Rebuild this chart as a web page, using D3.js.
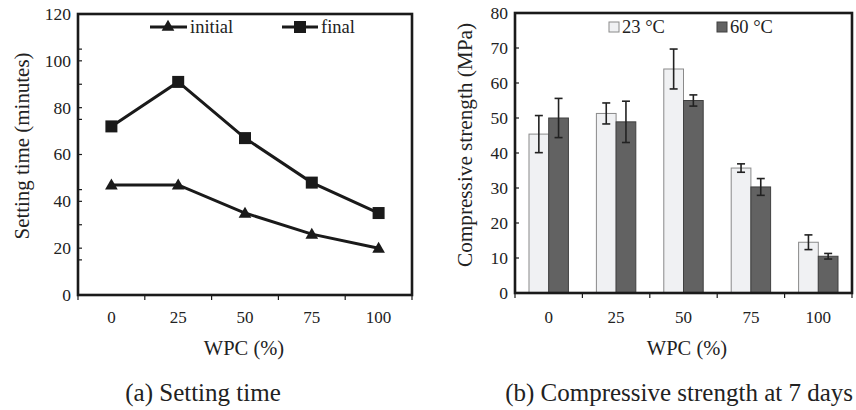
<!DOCTYPE html>
<html>
<head>
<meta charset="utf-8">
<script src="https://cdn.jsdelivr.net/npm/d3@7"></script>
<style>
  body { margin: 0; background: #fff; }
</style>
</head>
<body>
<svg id="chart" width="856" height="410" font-family="Liberation Serif, Times New Roman, Tinos, DejaVu Serif, Noto Serif, serif"></svg>
<script>
const wpc = ['0', '25', '50', '75', '100'];

// (a) setting time, minutes
const initialTime = [47, 47, 35, 26, 20];
const finalTime = [72, 91, 67, 48, 35];
const timeTicks = [0, 20, 40, 60, 80, 100, 120];
const timeMinor = [15, 30, 45, 75, 90, 105];

// (b) compressive strength at 7 days, MPa
const temps = ['23 °C', '60 °C'];
const strength23 = [45.4, 51.3, 64, 35.7, 14.5];
const err23 = [5.3, 3.0, 5.7, 1.2, 2.1];
const strength60 = [50, 48.9, 55, 30.3, 10.5];
const err60 = [5.6, 5.9, 1.6, 2.4, 0.8];
const strengthTicks = [0, 10, 20, 30, 40, 50, 60, 70, 80];

const svg = d3.select('#chart');
const ink = '#1a1a1a';
const txt = '#222';

// squeeze a text to the width measured on the reference
function fit(sel, w) {
    return sel.attr('textLength', w).attr('lengthAdjust', 'spacingAndGlyphs');
}

function drawFrame(g, x, y, ticks, minor) {
    const [x0, x1] = x.range();
    const [y0, y1] = y.range();

    g.selectAll('.ytick')
        .data(ticks.concat(minor))
        .enter().append('line')
        .attr('x1', x0).attr('x2', x0 + 4)
        .attr('y1', d => y(d)).attr('y2', d => y(d))
        .attr('stroke', ink).attr('stroke-width', 1.2);

    g.selectAll('.ylab')
        .data(ticks)
        .enter().append('text')
        .attr('x', x0 - 7)
        .attr('y', d => y(d))
        .attr('dy', '0.34em')
        .attr('text-anchor', 'end')
        .attr('fill', txt)
        .style('font-size', '17.5px')
        .text(d => d);

    // x ticks sit on the category boundaries
    const bounds = x.domain().map(d => x(d)).concat([x1]);
    g.selectAll('.xtick')
        .data(bounds)
        .enter().append('line')
        .attr('x1', d => d).attr('x2', d => d)
        .attr('y1', y0).attr('y2', y0 + 5)
        .attr('stroke', ink).attr('stroke-width', 1.2);

    g.selectAll('.xlab')
        .data(x.domain())
        .enter().append('text')
        .attr('x', d => x(d) + x.bandwidth() / 2)
        .attr('y', 323)
        .attr('text-anchor', 'middle')
        .attr('fill', txt)
        .style('font-size', '17px')
        .text(d => d);

    g.append('rect')
        .attr('x', x0).attr('y', y1)
        .attr('width', x1 - x0).attr('height', y0 - y1)
        .attr('fill', 'none')
        .attr('stroke', ink)
        .attr('stroke-width', 2.6);
}

// ---------- (a) setting time ----------
const gA = svg.append('g');
const xA = d3.scaleBand().domain(wpc).range([78, 412]);
const yA = d3.scaleLinear().domain([0, 120]).range([295, 14]);
const cx = d => xA(d) + xA.bandwidth() / 2;

const line = d3.line().x(d => cx(d.k)).y(d => yA(d.v));
const initPts = wpc.map((k, i) => ({ k, v: initialTime[i] }));
const finalPts = wpc.map((k, i) => ({ k, v: finalTime[i] }));

gA.append('path').datum(initPts)
    .attr('d', line).attr('fill', 'none')
    .attr('stroke', ink).attr('stroke-width', 3);
gA.append('path').datum(finalPts)
    .attr('d', line).attr('fill', 'none')
    .attr('stroke', ink).attr('stroke-width', 3);

const tri = d3.symbol().type(d3.symbolTriangle).size(70);
gA.selectAll('.tri')
    .data(initPts)
    .enter().append('path')
    .attr('d', tri)
    .attr('transform', d => `translate(${cx(d.k)},${yA(d.v) + 1})`)
    .attr('fill', ink);

gA.selectAll('.sq')
    .data(finalPts)
    .enter().append('rect')
    .attr('x', d => cx(d.k) - 6).attr('y', d => yA(d.v) - 6)
    .attr('width', 12).attr('height', 12)
    .attr('fill', ink);

drawFrame(gA, xA, yA, timeTicks, timeMinor);

// legend (a)
const legA = gA.append('g');
legA.append('line').attr('x1', 150).attr('x2', 187).attr('y1', 27).attr('y2', 27)
    .attr('stroke', ink).attr('stroke-width', 3);
legA.append('path').attr('d', tri).attr('transform', 'translate(168,27)').attr('fill', ink);
legA.append('text').attr('x', 190).attr('y', 27).attr('dy', '0.34em')
    .attr('fill', txt).style('font-size', '18.5px').text('initial');
legA.append('line').attr('x1', 282).attr('x2', 318).attr('y1', 27).attr('y2', 27)
    .attr('stroke', ink).attr('stroke-width', 3);
legA.append('rect').attr('x', 294).attr('y', 21).attr('width', 12).attr('height', 12).attr('fill', ink);
legA.append('text').attr('x', 321).attr('y', 27).attr('dy', '0.34em')
    .attr('fill', txt).style('font-size', '18.5px').text('final');

fit(gA.append('text')
    .attr('transform', 'translate(29,146) rotate(-90)')
    .attr('text-anchor', 'middle')
    .attr('fill', txt)
    .style('font-size', '21px')
    .text('Setting time (minutes)'), 187);
gA.append('text').attr('x', 244).attr('y', 355).attr('text-anchor', 'middle')
    .attr('fill', txt).style('font-size', '20.5px').text('WPC (%)');
gA.append('text').attr('x', 203).attr('y', 401).attr('text-anchor', 'middle')
    .attr('fill', txt).style('font-size', '25px').text('(a) Setting time');

// ---------- (b) compressive strength ----------
const gB = svg.append('g');
const xB = d3.scaleBand().domain(wpc).range([515, 852]);
const xInner = d3.scaleBand().domain(temps).range([0, xB.bandwidth()]).paddingOuter(0.71);
const yB = d3.scaleLinear().domain([0, 80]).range([293, 13]);

const barData = [];
wpc.forEach((k, i) => {
    barData.push({ k, t: temps[0], v: strength23[i], e: err23[i] });
    barData.push({ k, t: temps[1], v: strength60[i], e: err60[i] });
});
const fillC = { '23 °C': '#f0f1f3', '60 °C': '#626262' };
const strokeC = { '23 °C': '#8a8a8a', '60 °C': '#404040' };

gB.selectAll('.bar')
    .data(barData)
    .enter().append('rect')
    .attr('x', d => xB(d.k) + xInner(d.t))
    .attr('y', d => yB(d.v))
    .attr('width', xInner.bandwidth())
    .attr('height', d => yB(0) - yB(d.v))
    .attr('fill', d => fillC[d.t])
    .attr('stroke', d => strokeC[d.t])
    .attr('stroke-width', 1);

const ex = d => xB(d.k) + xInner(d.t) + xInner.bandwidth() / 2;
const eb = gB.selectAll('.err').data(barData).enter().append('g')
    .attr('stroke', '#222').attr('stroke-width', 1.6);
eb.append('line').attr('x1', ex).attr('x2', ex)
    .attr('y1', d => yB(d.v + d.e)).attr('y2', d => yB(d.v - d.e));
eb.append('line').attr('x1', d => ex(d) - 4).attr('x2', d => ex(d) + 4)
    .attr('y1', d => yB(d.v + d.e)).attr('y2', d => yB(d.v + d.e));
eb.append('line').attr('x1', d => ex(d) - 4).attr('x2', d => ex(d) + 4)
    .attr('y1', d => yB(d.v - d.e)).attr('y2', d => yB(d.v - d.e));

drawFrame(gB, xB, yB, strengthTicks, []);

// legend (b)
const legB = gB.append('g');
const legX = [609, 717];
temps.forEach((t, i) => {
    legB.append('rect').attr('x', legX[i]).attr('y', 22).attr('width', 10).attr('height', 10)
        .attr('fill', fillC[t]).attr('stroke', strokeC[t]);
    legB.append('text').attr('x', legX[i] + 13).attr('y', 27).attr('dy', '0.34em')
        .attr('fill', txt).style('font-size', '18.5px').text(t);
});

fit(gB.append('text')
    .attr('transform', 'translate(472,145) rotate(-90)')
    .attr('text-anchor', 'middle')
    .attr('fill', txt)
    .style('font-size', '21px')
    .text('Compressive strength (MPa)'), 244);
gB.append('text').attr('x', 687).attr('y', 355).attr('text-anchor', 'middle')
    .attr('fill', txt).style('font-size', '20.5px').text('WPC (%)');
gB.append('text').attr('x', 853).attr('y', 401).attr('text-anchor', 'end')
    .attr('fill', txt).style('font-size', '25px').text('(b) Compressive strength at 7 days');
</script>
</body>
</html>
